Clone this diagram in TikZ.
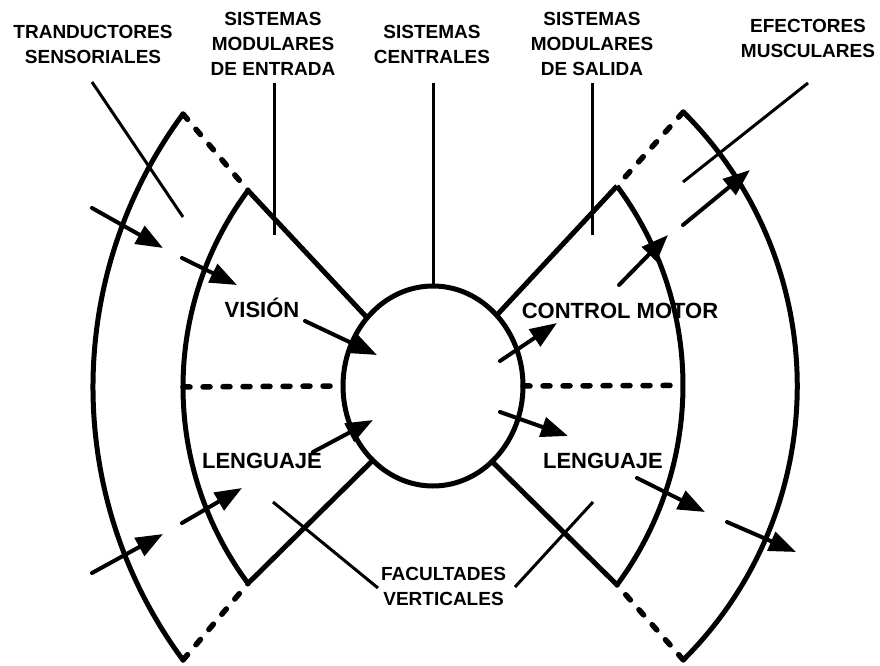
\documentclass[tikz,border=0pt]{standalone}
\usepackage{fontspec}
\setmainfont{Liberation Sans}
\usetikzlibrary{arrows.meta, shapes.geometric}

\begin{document}
\begin{tikzpicture}[
    x=1pt, y=-1pt,
    label text/.style={font=\bfseries\fontsize{19}{25}\selectfont, align=center, inner sep=0pt},
    zone text/.style={font=\bfseries\fontsize{22}{26}\selectfont, inner sep=0pt, anchor=base},
    wall/.style={line width=5pt},
    gap line/.style={line width=5.5pt, line cap=round, dash pattern=on 7pt off 13pt},
    leader/.style={line width=3pt},
    flow/.style={line width=4pt, line cap=round, -{Triangle[length=27pt, width=20pt]}}
]
    \useasboundingbox (0,0) rectangle (880,666);

    % --- Central system ---
    \node[ellipse, draw, line width=5pt, minimum width=180pt, minimum height=200pt,
          inner sep=0pt, outer sep=0pt] (Central) at (433,386) {};

    % --- Arcs ---
    \coordinate (OutTopL) at (183,114);
    \coordinate (InTopL) at (248,190.5);
    \coordinate (InTopR) at (617,186);
    \coordinate (OutTopR) at (683.3,112);

    \draw[wall] (OutTopL) arc[start angle=-143.5, end angle=-216.5, radius=459] coordinate (OutBotL);
    \draw[wall] (InTopL) arc[start angle=-143.4, end angle=-180, radius=329.5] coordinate (InMidL)
                         arc[start angle=-180, end angle=-216.6, radius=329.5] coordinate (InBotL);
    \draw[wall] (InTopR) arc[start angle=-36.6, end angle=0, radius=334.5] coordinate (InMidR)
                         arc[start angle=0, end angle=36.6, radius=334.5] coordinate (InBotR);
    \draw[wall] (OutTopR) arc[start angle=-45.17, end angle=45.17, radius=386.3] coordinate (OutBotR);

    % --- Modules ---
    \draw[wall] (InTopL) -- (Central.134);
    \draw[wall] (InBotL) -- (Central.231);
    \draw[wall] (InTopR) -- (Central.48);
    \draw[wall] (InBotR) -- (Central.308);

    \draw[gap line] (OutTopL) -- (InTopL);
    \draw[gap line] (OutBotL) -- (InBotL);
    \draw[gap line] (OutTopR) -- (InTopR);
    \draw[gap line] (OutBotR) -- (InBotR);
    \draw[gap line] (InMidL) -- (Central.west);
    \draw[gap line] (Central.east) -- (InMidR);

    % --- Labels ---
    \node[label text] (Trans) at (93,44) {TRANDUCTORES\\SENSORIALES};
    \node[label text] (Entrada) at (273,44) {SISTEMAS\\MODULARES\\DE ENTRADA};
    \node[label text] (Centrales) at (432,44.5) {SISTEMAS\\CENTRALES};
    \node[label text] (Salida) at (592,44) {SISTEMAS\\MODULARES\\DE SALIDA};
    \node[label text] (Efectores) at (808,38) {EFECTORES\\MUSCULARES};
    \node[label text] (Facultades) at (443.5,586.5) {FACULTADES\\VERTICALES};

    \node[zone text] (Vision) at (262,317) {VISIÓN};
    \node[zone text] (Control) at (620,318) {CONTROL MOTOR};
    \node[zone text] (LengIn) at (262,468) {LENGUAJE};
    \node[zone text] (LengOut) at (603,468) {LENGUAJE};

    % --- Leader lines ---
    \coordinate (TransA) at (92,82);    \coordinate (TransB) at (183,217);
    \coordinate (EntA) at (274,83);     \coordinate (EntB) at (274,235);
    \coordinate (CenA) at (433,83);
    \coordinate (SalA) at (592,83);     \coordinate (SalB) at (592,235);
    \coordinate (EfeA) at (808,83);     \coordinate (EfeB) at (683,182);
    \coordinate (FacLA) at (273,502);   \coordinate (FacLB) at (378,588);
    \coordinate (FacRA) at (593,502);   \coordinate (FacRB) at (515,587);

    \draw[leader] (TransA) -- (TransB);
    \draw[leader] (EntA) -- (EntB);
    \draw[leader] (CenA) -- (Central.north);
    \draw[leader] (SalA) -- (SalB);
    \draw[leader] (EfeA) -- (EfeB);
    \draw[leader] (FacLA) -- (FacLB);
    \draw[leader] (FacRA) -- (FacRB);

    % --- Input arrows ---
    \coordinate (L1a) at (92,208);   \coordinate (L1b) at (163,248);
    \coordinate (L2a) at (182,258);  \coordinate (L2b) at (237,285);
    \coordinate (L3a) at (305,321);  \coordinate (L3b) at (377,355);
    \coordinate (L4a) at (313,452);  \coordinate (L4b) at (373,420);
    \coordinate (L5a) at (182,523);  \coordinate (L5b) at (242,488);
    \coordinate (L6a) at (92,573);   \coordinate (L6b) at (163,534);

    \draw[flow] (L1a) -- (L1b);
    \draw[flow] (L2a) -- (L2b);
    \draw[flow] (L3a) -- (L3b);
    \draw[flow] (L4a) -- (L4b);
    \draw[flow] (L5a) -- (L5b);
    \draw[flow] (L6a) -- (L6b);

    % --- Output arrows ---
    \coordinate (R1a) at (500,361);  \coordinate (R1b) at (557,323);
    \coordinate (R2a) at (619,285);  \coordinate (R2b) at (668,235);
    \coordinate (R3a) at (683,225);  \coordinate (R3b) at (750,170);
    \coordinate (R4a) at (500,412);  \coordinate (R4b) at (568,436);
    \coordinate (R5a) at (637,478);  \coordinate (R5b) at (705,512);
    \coordinate (R6a) at (727,522);  \coordinate (R6b) at (796,552);

    \draw[flow] (R1a) -- (R1b);
    \draw[flow] (R2a) -- (R2b);
    \draw[flow] (R3a) -- (R3b);
    \draw[flow] (R4a) -- (R4b);
    \draw[flow] (R5a) -- (R5b);
    \draw[flow] (R6a) -- (R6b);
\end{tikzpicture}
\end{document}
